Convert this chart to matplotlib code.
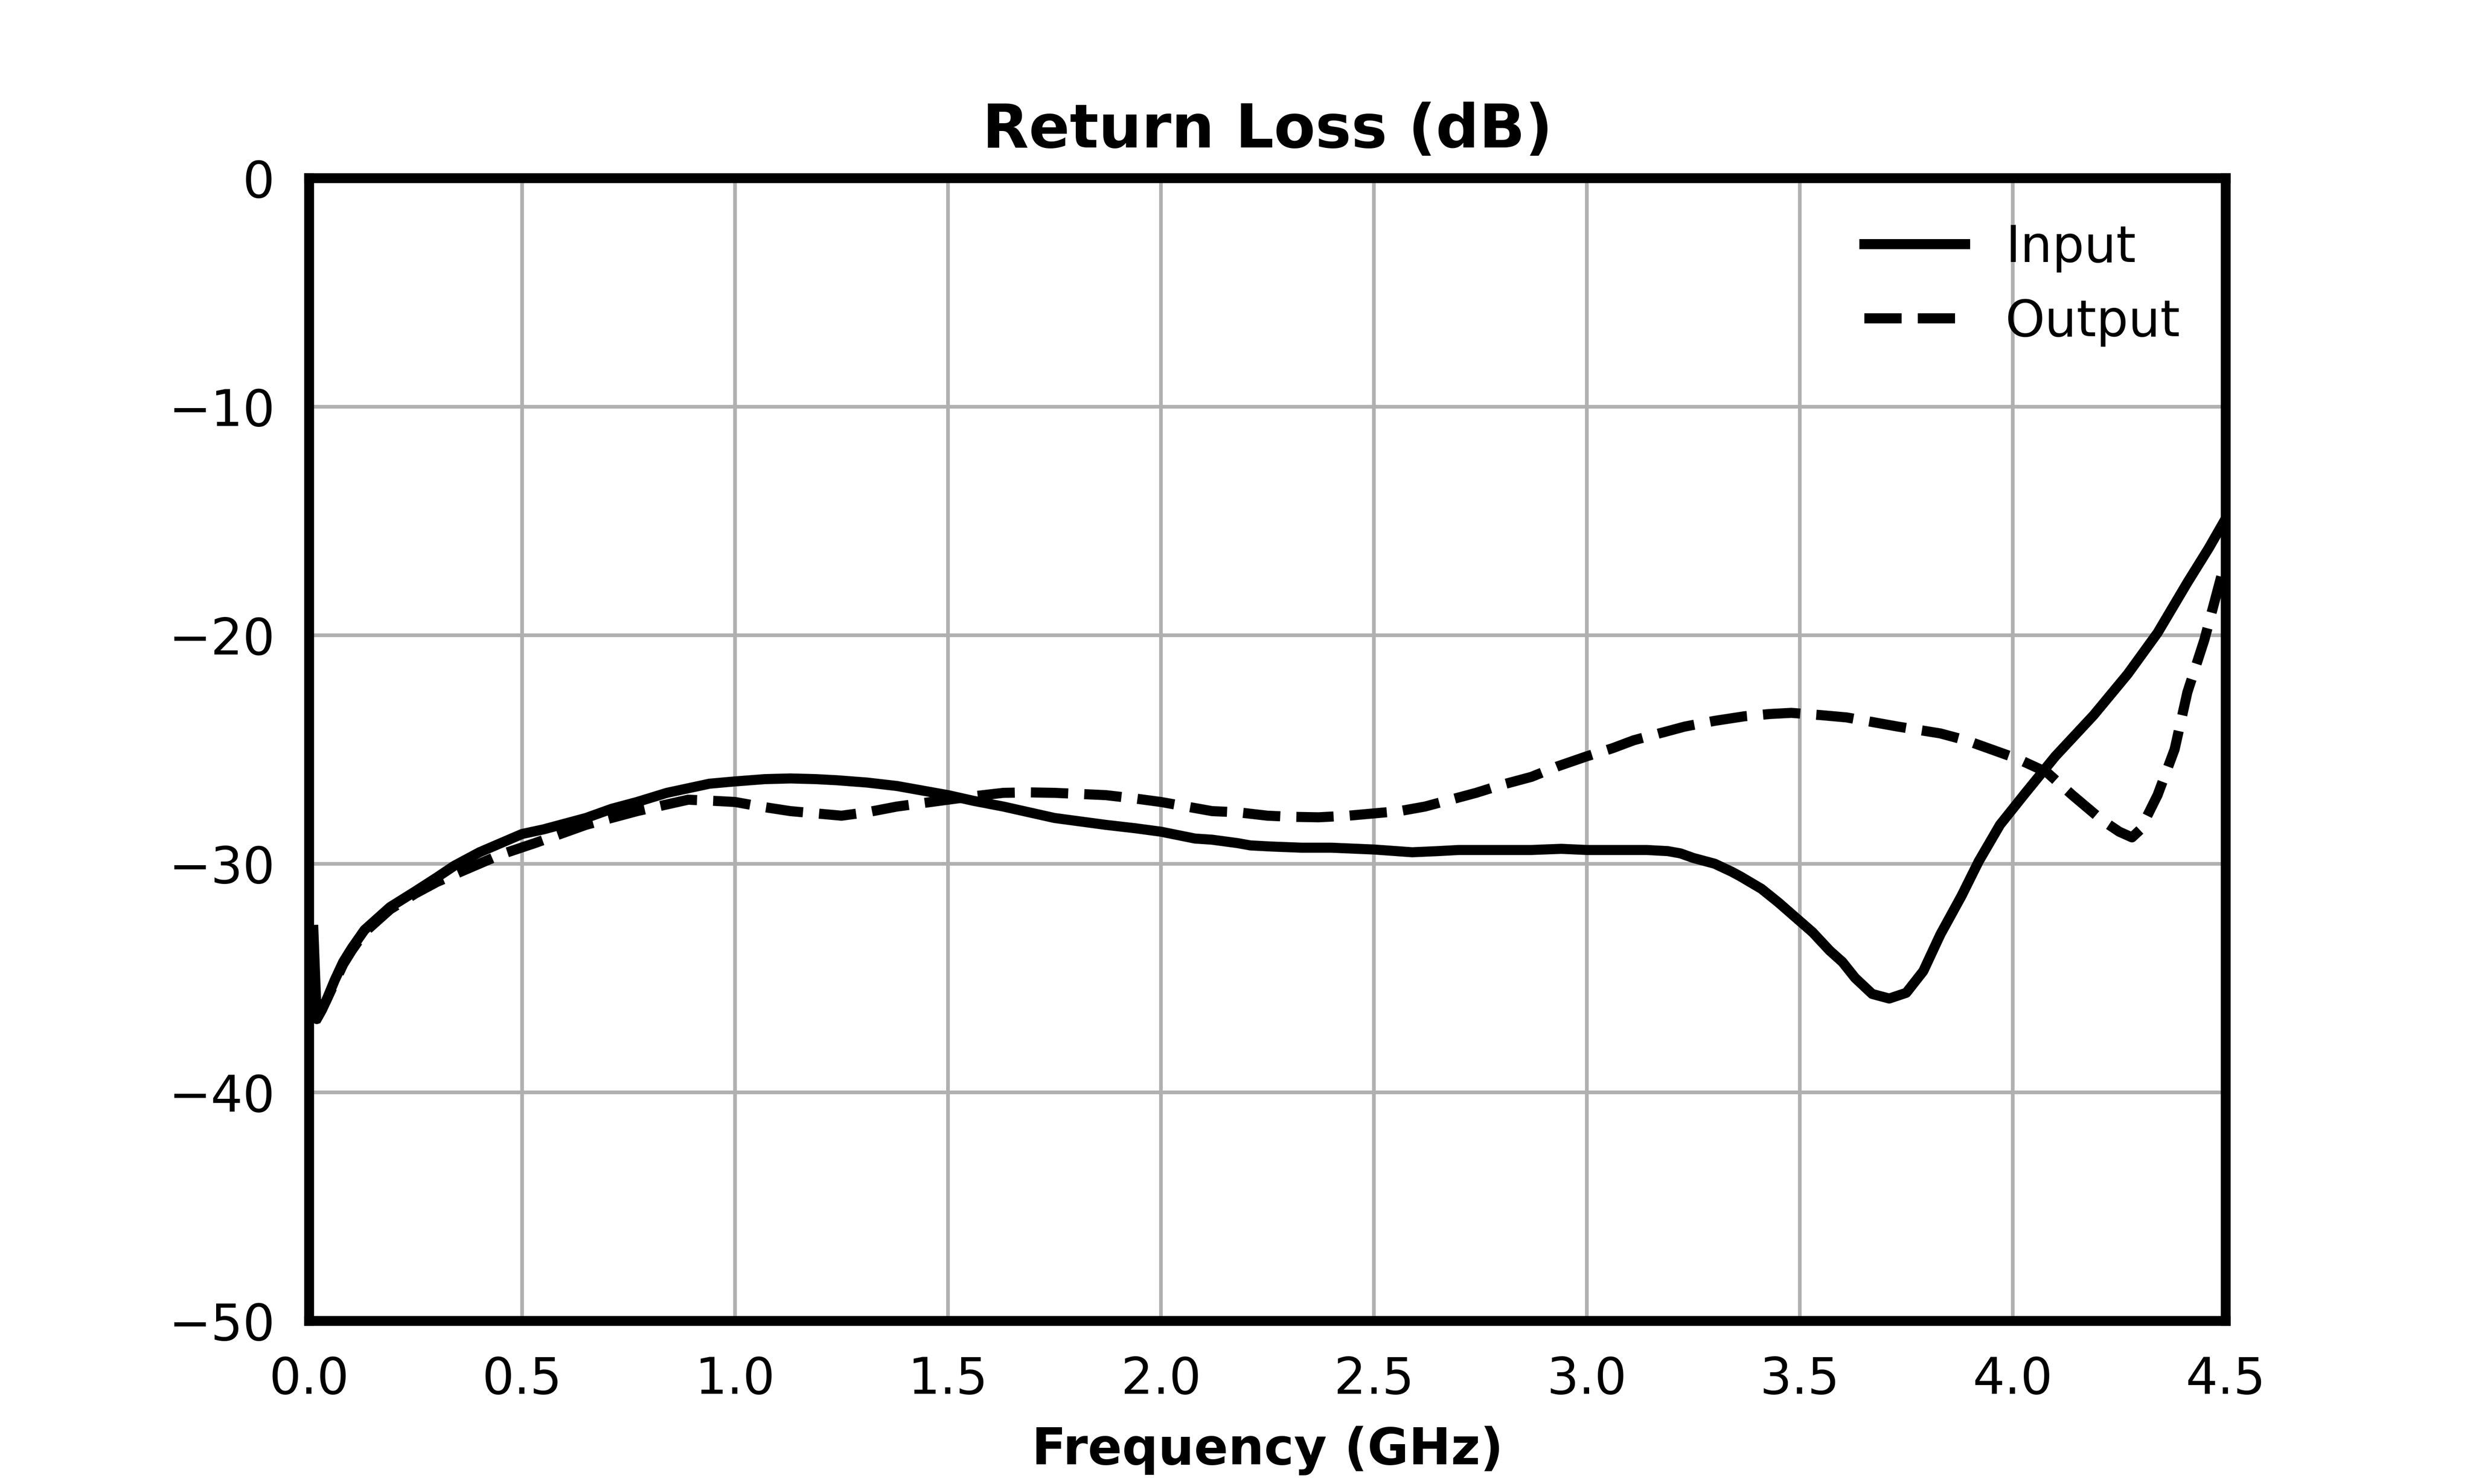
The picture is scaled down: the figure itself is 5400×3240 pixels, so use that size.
import numpy as np
import matplotlib
matplotlib.use("Agg")
import matplotlib.pyplot as plt

# Input return loss (solid)
f_in = [0.01, 0.018, 0.03, 0.04, 0.06, 0.08, 0.10, 0.13, 0.16, 0.19, 0.25, 0.30,
        0.34, 0.40, 0.45, 0.50, 0.55, 0.59, 0.65, 0.71, 0.77, 0.84, 0.89, 0.94,
        1.00, 1.07, 1.13, 1.19, 1.24, 1.31, 1.38, 1.44, 1.50, 1.56, 1.63, 1.69,
        1.75, 1.81, 1.87, 1.94, 2.00, 2.08, 2.12, 2.18, 2.21, 2.26, 2.33, 2.40,
        2.50, 2.59, 2.65, 2.70, 2.78, 2.87, 2.94, 3.00, 3.07, 3.14, 3.19, 3.22,
        3.25, 3.30, 3.34, 3.36, 3.41, 3.45, 3.49, 3.53, 3.57, 3.60, 3.63, 3.67,
        3.71, 3.75, 3.79, 3.83, 3.88, 3.92, 3.97, 4.03, 4.10, 4.19, 4.27, 4.34,
        4.41, 4.46, 4.50]
rl_in = [-32.9, -36.8, -36.4, -36.0, -35.1, -34.3, -33.7, -32.9, -32.4, -31.9, -31.2, -30.6,
         -30.1, -29.5, -29.1, -28.7, -28.5, -28.3, -28.0, -27.6, -27.3, -26.9, -26.7, -26.5,
         -26.4, -26.3, -26.27, -26.3, -26.35, -26.45, -26.6, -26.8, -27.0, -27.25, -27.5, -27.75,
         -28.0, -28.15, -28.3, -28.45, -28.6, -28.9, -28.95, -29.1, -29.2, -29.25, -29.3, -29.3,
         -29.38, -29.5, -29.45, -29.4, -29.4, -29.4, -29.35, -29.4, -29.4, -29.4, -29.45, -29.55,
         -29.75, -30.0, -30.35, -30.55, -31.1, -31.7, -32.35, -33.0, -33.8, -34.3, -35.0, -35.7,
         -35.9, -35.65, -34.7, -33.1, -31.4, -29.9, -28.3, -26.9, -25.3, -23.5, -21.7, -19.9,
         -17.7, -16.2, -14.9]

# Output return loss (dashed)
f_out = [0.015, 0.03, 0.04, 0.06, 0.08, 0.10, 0.13, 0.16, 0.19, 0.25, 0.30, 0.35,
         0.40, 0.45, 0.53, 0.59, 0.65, 0.71, 0.77, 0.83, 0.89, 0.95, 1.00, 1.06,
         1.13, 1.19, 1.25, 1.31, 1.38, 1.44, 1.50, 1.56, 1.63, 1.69, 1.75, 1.81,
         1.87, 1.94, 2.00, 2.06, 2.12, 2.18, 2.25, 2.31, 2.37, 2.44, 2.50, 2.56,
         2.62, 2.68, 2.74, 2.80, 2.87, 2.93, 3.00, 3.06, 3.11, 3.17, 3.23, 3.30,
         3.37, 3.43, 3.48, 3.55, 3.61, 3.67, 3.73, 3.78, 3.83, 3.89, 3.95, 4.01,
         4.08, 4.14, 4.21, 4.25, 4.28, 4.30, 4.34, 4.38, 4.41, 4.45, 4.49, 4.50]
rl_out = [-36.9, -36.3, -36.0, -35.2, -34.4, -33.8, -33.0, -32.5, -32.0, -31.3, -30.8, -30.4,
          -30.0, -29.6, -29.1, -28.7, -28.3, -28.0, -27.7, -27.45, -27.2, -27.25, -27.3, -27.5,
          -27.7, -27.8, -27.9, -27.75, -27.5, -27.35, -27.2, -27.05, -26.9, -26.88, -26.9, -26.95,
          -27.0, -27.15, -27.3, -27.5, -27.7, -27.75, -27.9, -27.95, -27.97, -27.9, -27.8, -27.7,
          -27.5, -27.2, -26.9, -26.55, -26.2, -25.75, -25.3, -24.95, -24.6, -24.3, -24.0, -23.75,
          -23.55, -23.45, -23.4, -23.5, -23.6, -23.8, -24.0, -24.15, -24.3, -24.6, -25.0, -25.4,
          -26.0, -27.0, -28.1, -28.6, -28.85, -28.5, -27.0, -25.0, -22.5, -20.2, -17.4, -16.8]

x_ticks = [0.0, 0.5, 1.0, 1.5, 2.0, 2.5, 3.0, 3.5, 4.0, 4.5]
y_ticks = [-50, -40, -30, -20, -10, 0]

plt.rcParams['font.family'] = ['DejaVu Sans']
plt.rcParams['font.size'] = 11

fig = plt.figure(figsize=(7.5, 4.5), dpi=720)
ax = fig.add_subplot(111)

ax.plot(f_in, rl_in, color='black', linestyle='-', linewidth=2.2, label='Input')
ax.plot(f_out, rl_out, color='black', linestyle='--', linewidth=2.2, label='Output')

ax.set_xlim(0, 4.5)
ax.set_ylim(-50, 0)
ax.set_xticks(x_ticks)
ax.set_yticks(y_ticks)
ax.grid(True, color='#b0b0b0', linewidth=0.8)
ax.tick_params(which='both', length=0, pad=7.5)

for sp in ax.spines.values():
    sp.set_linewidth(2.15)
    sp.set_color('black')

ax.set_title('Return Loss (dB)', fontweight='bold', fontsize=13.2, pad=6.7)
ax.set_xlabel('Frequency (GHz)', fontweight='bold', labelpad=4.7)
ax.legend(loc='upper right', frameon=False)

fig.savefig('out.png', dpi=720)
